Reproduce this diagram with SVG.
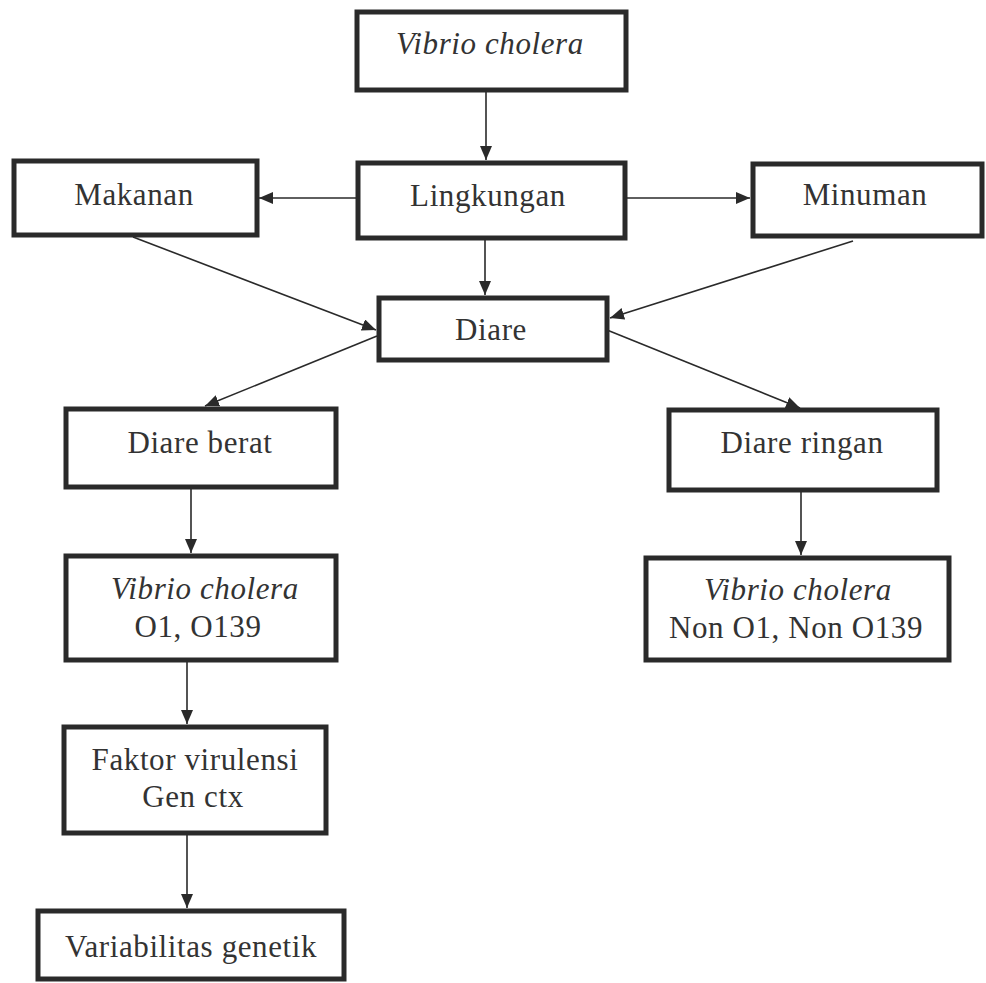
<svg xmlns="http://www.w3.org/2000/svg" width="986" height="983" viewBox="0 0 986 983">
<style>
.box{fill:#fff;stroke:#2a2a2a;stroke-width:5}
.t{font-family:"Liberation Serif","Times New Roman",serif;font-size:31px;letter-spacing:0.6px;fill:#333;text-anchor:middle}
.i{font-style:italic}
.c{stroke:#2a2a2a;stroke-width:1.6;fill:none;marker-end:url(#ah)}
</style>
<defs>
<marker id="ah" markerUnits="userSpaceOnUse" markerWidth="16" markerHeight="14" refX="14" refY="6" orient="auto">
<path d="M0,0 L14,6 L0,12 Z" fill="#2a2a2a"/>
</marker>
</defs>
<rect width="986" height="983" fill="#fff"/>
<g id="connectors">
<line class="c" x1="486" y1="92" x2="486" y2="160"/>
<line class="c" x1="356" y1="198" x2="259" y2="198"/>
<line class="c" x1="626" y1="198" x2="750" y2="198"/>
<line class="c" x1="485" y1="240" x2="485" y2="295"/>
<line class="c" x1="133" y1="237" x2="376" y2="330"/>
<line class="c" x1="853" y1="241" x2="610" y2="318"/>
<line class="c" x1="377" y1="336" x2="205" y2="406"/>
<line class="c" x1="607" y1="330" x2="800" y2="408"/>
<line class="c" x1="191" y1="489" x2="191" y2="553"/>
<line class="c" x1="801" y1="492" x2="801" y2="555"/>
<line class="c" x1="187" y1="662" x2="187" y2="724"/>
<line class="c" x1="187" y1="835" x2="187" y2="908"/>
</g>
<g id="n-vibrio">
<rect class="box" x="357" y="12" width="269" height="78"/>
<text class="t i" x="490" y="54">Vibrio cholera</text>
</g>
<g id="n-lingkungan">
<rect class="box" x="358" y="163" width="267" height="75"/>
<text class="t" x="488" y="206">Lingkungan</text>
</g>
<g id="n-makanan">
<rect class="box" x="14" y="161" width="243" height="74"/>
<text class="t" x="134" y="205">Makanan</text>
</g>
<g id="n-minuman">
<rect class="box" x="753" y="164" width="229" height="72"/>
<text class="t" x="865" y="205">Minuman</text>
</g>
<g id="n-diare">
<rect class="box" x="379" y="298" width="228" height="62"/>
<text class="t" x="491" y="340">Diare</text>
</g>
<g id="n-diare-berat">
<rect class="box" x="66" y="409" width="270" height="78"/>
<text class="t" x="200" y="453">Diare berat</text>
</g>
<g id="n-diare-ringan">
<rect class="box" x="669" y="410" width="268" height="80"/>
<text class="t" x="802" y="453">Diare ringan</text>
</g>
<g id="n-vibrio-o1">
<rect class="box" x="66" y="556" width="270" height="104"/>
<text class="t i" x="205" y="599">Vibrio cholera</text>
<text class="t" x="198" y="637">O1, O139</text>
</g>
<g id="n-vibrio-non">
<rect class="box" x="646" y="558" width="303" height="102"/>
<text class="t i" x="798" y="600">Vibrio cholera</text>
<text class="t" x="796" y="638">Non O1, Non O139</text>
</g>
<g id="n-faktor">
<rect class="box" x="64" y="727" width="262" height="106"/>
<text class="t" x="195" y="770">Faktor virulensi</text>
<text class="t" x="193" y="807">Gen ctx</text>
</g>
<g id="n-variabilitas">
<rect class="box" x="38" y="911" width="306" height="68"/>
<text class="t" x="191" y="957">Variabilitas genetik</text>
</g>
</svg>
